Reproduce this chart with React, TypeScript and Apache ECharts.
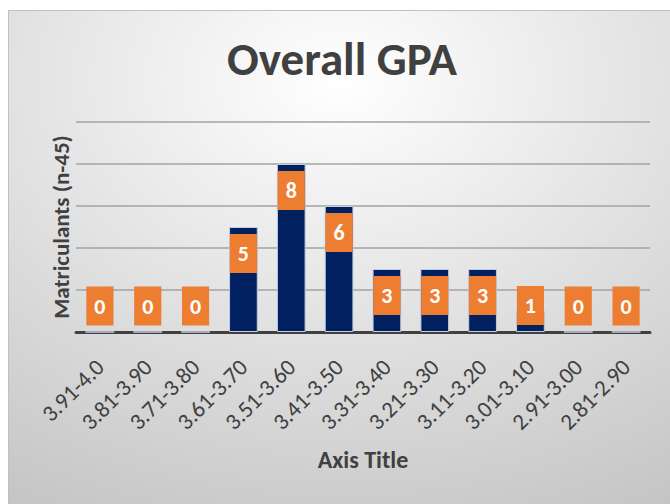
import React, { useEffect, useRef } from "react";
import * as echarts from "echarts";

const categories = [
  "3.91-4.0", "3.81-3.90", "3.71-3.80", "3.61-3.70", "3.51-3.60", "3.41-3.50",
  "3.31-3.40", "3.21-3.30", "3.11-3.20", "3.01-3.10", "2.91-3.00", "2.81-2.90",
];
const matriculants = [0, 0, 0, 5, 8, 6, 3, 3, 3, 1, 0, 0];
const chartTitle = "Overall GPA";
const yTitle = "Matriculants (n-45)";
const xTitle = "Axis Title";

const FONT = "Carlito, Lato, 'Open Sans', sans-serif";

export default function App() {
  const ref = useRef<HTMLDivElement>(null);
  useEffect(() => {
    if (!ref.current) return;
    const chart = echarts.init(ref.current, undefined, { renderer: "svg" });
    chart.setOption({
      animation: false,
      backgroundColor: {
        type: "radial",
        x: 0.5,
        y: 0.14,
        r: 1.0,
        colorStops: [
          { offset: 0, color: "#ffffff" },
          { offset: 1, color: "#c4c4c4" },
        ],
      },
      textStyle: { fontFamily: FONT },
      graphic: [
        {
          type: "text",
          left: 218,
          top: 24,
          style: {
            text: chartTitle,
            font: `bold 47px ${FONT}`,
            fill: "#404040",
          },
        },
      ],
      grid: { left: 67, right: 20, top: 111, bottom: 172 },
      xAxis: {
        type: "category",
        data: categories,
        axisLine: { lineStyle: { color: "#404040", width: 3 } },
        axisTick: { show: false },
        axisLabel: {
          rotate: 45,
          interval: 0,
          margin: 31,
          color: "#404040",
          fontSize: 23,
          fontFamily: FONT,
        },
        name: xTitle,
        nameLocation: "middle",
        nameGap: 115,
        nameTextStyle: {
          color: "#404040",
          fontSize: 24,
          fontWeight: "bold",
          fontFamily: FONT,
        },
      },
      yAxis: {
        type: "value",
        min: 0,
        max: 10,
        interval: 2,
        axisLabel: { show: false },
        axisLine: { show: false },
        axisTick: { show: false },
        splitLine: { lineStyle: { color: "#a3a3a3", width: 1.5 } },
        name: yTitle,
        nameLocation: "middle",
        nameRotate: 90,
        nameGap: 4,
        nameTextStyle: {
          color: "#404040",
          fontSize: 23,
          fontWeight: "bold",
          fontFamily: FONT,
        },
      },
      series: [
        {
          type: "bar",
          barWidth: "60%",
          data: matriculants.map((v) => ({
            value: v,
            label: {
              position: v < 2 ? "insideBottom" : "insideTop",
            },
          })),
          itemStyle: {
            color: "#002060",
            borderColor: "#c5cde0",
            borderWidth: 1,
          },
          label: {
            show: true,
            distance: 7,
            color: "#ffffff",
            fontWeight: "bold",
            fontSize: 22,
            fontFamily: FONT,
            backgroundColor: "#ED7D31",
            lineHeight: 25,
            padding: [7, 8, 7, 8],
          },
        },
      ],
    });
    return () => chart.dispose();
  }, []);

  return (
    <div
      style={{
        position: "fixed",
        left: 0,
        top: 0,
        width: 670,
        height: 504,
        background: "#ffffff",
        overflow: "hidden",
      }}
    >
      <div
        style={{
          position: "absolute",
          left: 8,
          top: 10,
          width: 662,
          height: 494,
          borderLeft: "1px solid #c0c0c0",
          borderTop: "1px solid #c0c0c0",
          boxSizing: "border-box",
        }}
      >
        <div ref={ref} style={{ width: 661, height: 493 }} />
      </div>
    </div>
  );
}
